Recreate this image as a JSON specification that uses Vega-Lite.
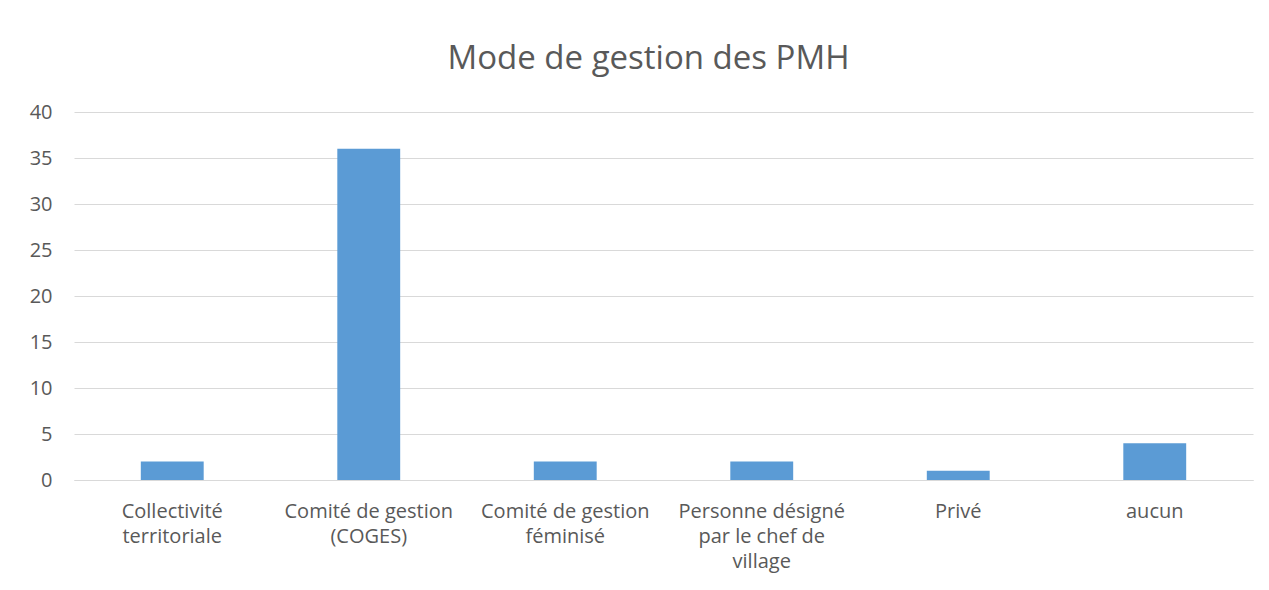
{
  "$schema": "https://vega.github.io/schema/vega-lite/v6.json",
  "autosize": "none",
  "width": 1179,
  "height": 368,
  "padding": {"left": 74, "top": 112, "right": 16, "bottom": 110},
  "background": "white",
  "title": {
    "text": "Mode de gestion des PMH",
    "font": "Open Sans",
    "fontSize": 33,
    "fontWeight": "normal",
    "color": "#595959",
    "anchor": "middle",
    "baseline": "alphabetic",
    "dx": -15,
    "offset": 0
  },
  "data": {
    "values": [
      {"mode": "Collectivité territoriale", "n": 2},
      {"mode": "Comité de gestion (COGES)", "n": 36},
      {"mode": "Comité de gestion féminisé", "n": 2},
      {"mode": "Personne désigné par le chef de village", "n": 2},
      {"mode": "Privé", "n": 1},
      {"mode": "aucun", "n": 4}
    ]
  },
  "mark": {"type": "bar", "color": "#5B9BD5"},
  "encoding": {
    "x": {
      "field": "mode",
      "type": "nominal",
      "sort": null,
      "scale": {"paddingInner": 0.68, "paddingOuter": 0.34},
      "axis": {
        "title": null,
        "labelAngle": 0,
        "labelFont": "Open Sans",
        "labelFontSize": 20,
        "labelColor": "#595959",
        "labelPadding": 21,
        "labelLineHeight": 25,
        "labelLimit": 300,
        "domainColor": "#d9d9d9",
        "ticks": false,
        "labelExpr": "datum.value == 'Collectivité territoriale' ? ['Collectivité', 'territoriale'] : datum.value == 'Comité de gestion (COGES)' ? ['Comité de gestion', '(COGES)'] : datum.value == 'Comité de gestion féminisé' ? ['Comité de gestion', 'féminisé'] : datum.value == 'Personne désigné par le chef de village' ? ['Personne désigné', 'par le chef de', 'village'] : datum.value"
      }
    },
    "y": {
      "field": "n",
      "type": "quantitative",
      "scale": {"domain": [0, 40]},
      "axis": {
        "title": null,
        "values": [0, 5, 10, 15, 20, 25, 30, 35, 40],
        "labelFont": "Open Sans",
        "labelFontSize": 20,
        "labelColor": "#595959",
        "labelPadding": 22,
        "domain": false,
        "ticks": false,
        "gridColor": "#d9d9d9"
      }
    }
  },
  "config": {"view": {"stroke": null}}
}
